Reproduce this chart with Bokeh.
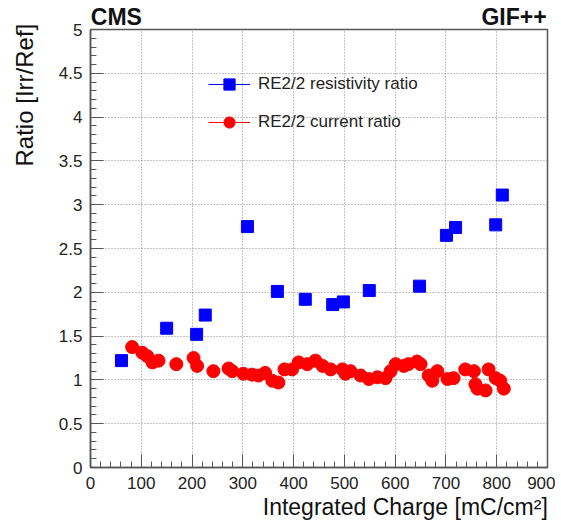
import math
from bokeh.plotting import figure
from bokeh.models import (Range1d, FixedTicker, Legend, LegendItem, LinearAxis)
from bokeh.embed import file_html
from bokeh.resources import INLINE

# ---- data ----
blue_x = [61, 150, 209, 226, 309, 368, 423, 477, 498, 549, 648, 701, 719, 798, 811]
blue_y = [1.22, 1.59, 1.52, 1.74, 2.75, 2.01, 1.92, 1.86, 1.89, 2.02, 2.07, 2.65, 2.74, 2.77, 3.11]

red_x = [82, 102, 112, 122, 134, 169, 203, 210, 242, 272, 279, 301, 318, 331, 344, 358,
         370, 382, 397, 410, 427, 443, 457, 473, 496, 502, 512, 532, 548, 565, 581, 591,
         601, 617, 626, 643, 650, 666, 673, 683, 703, 715, 738, 755, 758, 762, 778, 784,
         798, 807, 814]
red_y = [1.375, 1.31, 1.27, 1.20, 1.22, 1.18, 1.25, 1.16, 1.10, 1.13, 1.10, 1.07, 1.06, 1.05,
         1.08, 0.99, 0.97, 1.12, 1.12, 1.20, 1.18, 1.22, 1.16, 1.12, 1.12, 1.07, 1.10, 1.05,
         1.01, 1.03, 1.02, 1.10, 1.18, 1.16, 1.18, 1.21, 1.18, 1.05, 0.99, 1.10, 1.01, 1.02,
         1.12, 1.10, 0.95, 0.90, 0.88, 1.12, 1.02, 0.99, 0.90]

x_ticks = [0, 100, 200, 300, 400, 500, 600, 700, 800, 900]
y_ticks = [0, 0.5, 1, 1.5, 2, 2.5, 3, 3.5, 4, 4.5, 5]
y_tick_labels = ["0", "0.5", "1", "1.5", "2", "2.5", "3", "3.5", "4", "4.5", "5"]

blue_label = "RE2/2 resistivity ratio"
red_label = "RE2/2 current ratio"
x_title = "Integrated Charge [mC/cm²]"
y_title = "Ratio [Irr/Ref]"
header_left = "CMS"
header_right = "GIF++"
header_pos = [51, 834]   # x positions (data units) where the header texts are centred

FONT = "Liberation Sans"
AXC = "#555555"
NBSP = "\u00a0"

p = figure(width=555, height=522, output_backend="svg", toolbar_location=None,
           x_range=Range1d(0, 900), y_range=Range1d(0, 5),
           min_border_left=90, min_border_right=8, min_border_top=27, min_border_bottom=55)
p.background_fill_color = "white"
p.border_fill_color = "white"
p.outline_line_color = AXC
p.outline_line_width = 1.5

x_minor = [i * 20 for i in range(46)]
y_minor = [i * 0.1 for i in range(51)]
p.xaxis.ticker = FixedTicker(ticks=x_ticks, minor_ticks=x_minor)
p.yaxis.ticker = FixedTicker(ticks=y_ticks, minor_ticks=y_minor)
p.yaxis.major_label_overrides = {t: l for t, l in zip(y_ticks, y_tick_labels)}

for ax in (p.xaxis, p.yaxis):
    ax.axis_line_color = AXC
    ax.axis_line_width = 1.5
    ax.major_tick_line_color = AXC
    ax.minor_tick_line_color = AXC
    ax.major_tick_in = 13
    ax.major_tick_out = 0
    ax.minor_tick_in = 6
    ax.minor_tick_out = 0
    ax.major_label_text_font = FONT
    ax.major_label_text_font_size = "17px"
    ax.major_label_text_color = "#222222"
    ax.axis_label_text_font = FONT
    ax.axis_label_text_font_style = "normal"
    ax.axis_label_text_color = "#111111"
p.xaxis.major_label_standoff = 9
p.yaxis.major_label_standoff = 8
# titles are right-aligned at the frame end (ROOT style): leading no-break spaces
p.xaxis.axis_label_text_font_size = "23px"
p.yaxis.axis_label_text_font_size = "24px"
p.xaxis.axis_label = NBSP * 27 + x_title
p.yaxis.axis_label = NBSP * 46 + y_title
p.xaxis.axis_label_standoff = 2
p.yaxis.axis_label_standoff = 18

# header texts drawn by a tick-less axis above the frame
top = LinearAxis(ticker=FixedTicker(ticks=header_pos, minor_ticks=[]),
                 major_label_overrides={header_pos[0]: header_left, header_pos[1]: header_right},
                 axis_line_color=None, major_tick_line_color=None, minor_tick_line_color=None,
                 major_tick_in=0, major_tick_out=0, minor_tick_in=0, minor_tick_out=0,
                 major_label_standoff=0, major_label_text_font=FONT,
                 major_label_text_font_size="23px", major_label_text_font_style="bold",
                 major_label_text_color="#111111")
p.add_layout(top, "above")

p.grid.grid_line_color = "#888888"
p.grid.grid_line_dash = "1 2"
p.grid.grid_line_width = 1

nan = float("nan")
r_blue = p.scatter(blue_x, blue_y, marker="square", size=12, color="#0000ff")
r_red = p.scatter(red_x, red_y, marker="circle", size=13, color="#ff0000")
l_blue = p.line([nan], [nan], line_color="#0000ff", line_width=1)
l_red = p.line([nan], [nan], line_color="#ff0000", line_width=1)

legend = Legend(items=[LegendItem(label=blue_label, renderers=[l_blue, r_blue]),
                       LegendItem(label=red_label, renderers=[l_red, r_red])],
                location=(118, 331), border_line_color=None, background_fill_alpha=0,
                padding=0, margin=0, spacing=10, glyph_width=42, glyph_height=28,
                label_height=28, label_standoff=8,
                label_text_font=FONT, label_text_font_size="17px",
                label_text_color="#222222")
p.add_layout(legend)

open("out.html", "w").write(file_html(p, INLINE))
